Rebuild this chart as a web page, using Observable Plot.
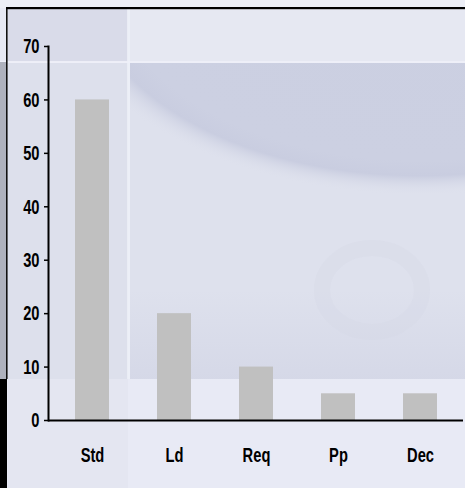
<!DOCTYPE html>
<html>
<head>
<meta charset="utf-8">
<script src="https://cdn.jsdelivr.net/npm/d3@7"></script>
<script src="https://cdn.jsdelivr.net/npm/@observablehq/plot@0.6"></script>
<style>
  html, body { margin: 0; padding: 0; background: #e7e9f4; }
  #wrap { position: relative; width: 465px; height: 488px; overflow: hidden; }
  #wrap > svg { position: absolute; left: 0; top: 0; }
</style>
</head>
<body>
<div id="wrap"></div>
<script>
// Category counts
const categories = ["Std", "Ld", "Req", "Pp", "Dec"];
const values = [60, 20, 10, 5, 5];
const yTicks = [0, 10, 20, 30, 40, 50, 60, 70];

const rows = categories.map((cat, i) => ({cat, value: values[i]}));

const W = 465, H = 488;
const wrap = document.getElementById("wrap");

// Decorative slide backdrop behind the chart
const bg = d3.create("svg").attr("width", W).attr("height", H);
const defs = bg.append("defs");

defs.append("clipPath").attr("id", "panelClip")
  .append("rect").attr("x", 130).attr("y", 63).attr("width", W - 130).attr("height", 316);

const disc = defs.append("radialGradient").attr("id", "disc");
disc.append("stop").attr("offset", "0%").attr("stop-color", "#cbcfe1");
disc.append("stop").attr("offset", "84%").attr("stop-color", "#ccd0e2");
disc.append("stop").attr("offset", "91%").attr("stop-color", "#c9cde0");
disc.append("stop").attr("offset", "100%").attr("stop-color", "#dde0ec").attr("stop-opacity", 0);

const lowShade = defs.append("linearGradient").attr("id", "lowShade")
  .attr("x1", 0).attr("y1", 0).attr("x2", 0).attr("y2", 1);
lowShade.append("stop").attr("offset", "0%").attr("stop-color", "#d3d6e6").attr("stop-opacity", 0);
lowShade.append("stop").attr("offset", "100%").attr("stop-color", "#d3d6e6").attr("stop-opacity", 1);

const rect = (x, y, w, h, fill, op = 1) =>
  bg.append("rect").attr("x", x).attr("y", y).attr("width", w).attr("height", h)
    .attr("fill", fill).attr("opacity", op);

rect(0, 0, W, H, "#e7e9f4");
rect(0, 0, W, 8, "#eceef6");
rect(8, 9, 120, 53, "#d9dbe9");
rect(128, 9, W - 128, 53, "#e6e8f2");
rect(8, 63, 120, 316, "#dde0ec");
rect(130, 63, W - 130, 316, "#dee1ed");

const panel = bg.append("g").attr("clip-path", "url(#panelClip)");
panel.append("ellipse").attr("cx", 420).attr("cy", -20).attr("rx", 366).attr("ry", 215)
  .attr("fill", "url(#disc)");
panel.append("rect").attr("x", 130).attr("y", 290).attr("width", W - 130).attr("height", 89)
  .attr("fill", "url(#lowShade)").attr("opacity", 0.8);
panel.append("ellipse").attr("cx", 372).attr("cy", 290).attr("rx", 50).attr("ry", 42)
  .attr("fill", "none").attr("stroke", "#d4d7e6").attr("stroke-width", 16).attr("opacity", 0.3);

rect(127, 9, 3, 370, "#eef0f8", 0.8);
rect(0, 61, W, 2, "#eef0f8", 0.9);
rect(0, 379, W, 109, "#e8eaf5");
rect(8, 379, 120, 109, "#e4e6f1");
// frame edges
rect(0, 62, 6, 317, "#aeb1bd");
rect(0, 379, 7, 109, "#000000");
rect(6, 7, 1.6, 372, "#111111");
rect(6, 7, W - 6, 2.2, "#000000");

wrap.appendChild(bg.node());

const chart = Plot.plot({
  width: W,
  height: H,
  marginLeft: 48,
  marginRight: 2,
  marginTop: 46,
  marginBottom: 68,
  style: {
    background: "transparent",
    fontFamily: "'Liberation Sans', Arial, sans-serif",
    fontSize: "21px",
    fontWeight: "bold",
    color: "#000"
  },
  x: {domain: categories, paddingInner: 0.59, paddingOuter: 0.31, label: null},
  y: {domain: [0, 70], label: null},
  marks: [
    Plot.barY(rows, {x: "cat", y: "value", fill: "#c0c0c0"}),
    Plot.axisY({ticks: yTicks, tickSize: 4, tickPadding: 5, strokeWidth: 1.5, label: null}),
    Plot.axisX({tickSize: 0, tickPadding: 27, label: null}),
    Plot.frame({anchor: "left", stroke: "#000", strokeWidth: 2}),
    Plot.ruleY([0], {stroke: "#000", strokeWidth: 2})
  ]
});

// Condense the tick labels horizontally around their anchor points
d3.select(chart).selectAll("g[aria-label$='tick label'] text").each(function () {
  const t = d3.select(this);
  const tf = t.attr("transform");
  if (tf) {
    t.attr("transform", tf + " scale(0.7,1)");
  } else {
    const x = +(t.attr("x") || 0), y = +(t.attr("y") || 0);
    t.attr("transform", `translate(${x},${y}) scale(0.7,1) translate(${-x},${-y})`);
  }
});

wrap.appendChild(chart);
</script>
</body>
</html>
